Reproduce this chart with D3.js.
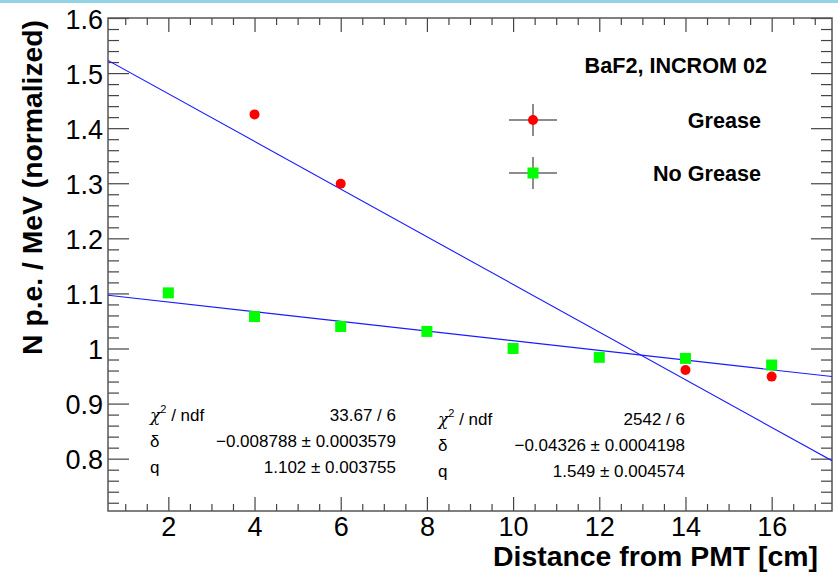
<!DOCTYPE html>
<html><head><meta charset="utf-8">
<script src="https://cdn.jsdelivr.net/npm/d3@7"></script>
<style>body{margin:0;background:#fff} svg{display:block}</style>
</head><body><svg id="c" width="838" height="572"></svg>
<script>
// ---- data ----
const greaseX = [4, 6, 14, 16];
const greaseY = [1.425, 1.299, 0.961, 0.949];
const noGreaseX = [2, 4, 6, 8, 10, 12, 14, 16];
const noGreaseY = [1.101, 1.058, 1.040, 1.031, 1.000, 0.984, 0.982, 0.970];
const greaseFit = [1.549, -0.04326];      // q, delta
const noGreaseFit = [1.102, -0.008788];   // q, delta
const xTicks = [2, 4, 6, 8, 10, 12, 14, 16];
const yTicks = [0.8, 0.9, 1.0, 1.1, 1.2, 1.3, 1.4, 1.5, 1.6];
const xDomain = [0.6, 17.4];
const yDomain = [0.705, 1.6];
const legendLabels = ["Grease", "No Grease"];
const titleText = "BaF2, INCROM 02";
const xTitle = "Distance from PMT [cm]";
const yTitle = "N p.e. / MeV (normalized)";
const statsNoGrease = [["χ", "33.67 / 6"], ["δ", "−0.008788 ± 0.0003579"], ["q", "1.102 ± 0.003755"]];
const statsGrease = [["χ", "2542 / 6"], ["δ", "−0.04326 ± 0.0004198"], ["q", "1.549 ± 0.004574"]];

// ---- layout ----
const L = 108, R = 832, T = 18, B = 511;
const FONT = "'Liberation Sans', Arial, Helvetica, sans-serif";
const svg = d3.select("#c").style("font-family", FONT);
svg.append("rect").attr("x", 0).attr("y", 0).attr("width", 838).attr("height", 3).attr("fill", "#93d3e6");

const x = d3.scaleLinear().domain(xDomain).range([L, R]);
const y = d3.scaleLinear().domain(yDomain).range([B, T]);

const xMinor = d3.range(2, 35).map(i => i / 2).filter(v => v % 2 !== 0);
const yMinor = d3.range(36, 81).filter(i => i % 5 !== 0).map(i => i / 50);

const tickColor = "#444";
function styleAxis(g) {
  g.select(".domain").remove();
  g.selectAll("line").attr("stroke", tickColor).attr("stroke-width", 1.2);
}
// bottom
svg.append("g").attr("transform", `translate(0,${B})`)
  .call(d3.axisBottom(x).tickValues(xMinor).tickSize(-7).tickSizeOuter(0).tickFormat(""))
  .call(styleAxis);
const xb = svg.append("g").attr("transform", `translate(0,${B})`)
  .call(d3.axisBottom(x).tickValues(xTicks).tickSize(-14).tickSizeOuter(0).tickPadding(6).tickFormat(d3.format("d")))
  .call(styleAxis);
xb.selectAll("text").attr("font-size", 27).attr("fill", "#000").attr("font-family", FONT);
// top
svg.append("g").attr("transform", `translate(0,${T})`)
  .call(d3.axisTop(x).tickValues(xMinor).tickSize(-7).tickSizeOuter(0).tickFormat(""))
  .call(styleAxis);
svg.append("g").attr("transform", `translate(0,${T})`)
  .call(d3.axisTop(x).tickValues(xTicks).tickSize(-14).tickSizeOuter(0).tickFormat(""))
  .call(styleAxis);
// left
svg.append("g").attr("transform", `translate(${L},0)`)
  .call(d3.axisLeft(y).tickValues(yMinor).tickSize(-11).tickSizeOuter(0).tickFormat(""))
  .call(styleAxis);
const yl = svg.append("g").attr("transform", `translate(${L},0)`)
  .call(d3.axisLeft(y).tickValues(yTicks).tickSize(-21).tickSizeOuter(0).tickPadding(5)
    .tickFormat(d => d === 1 ? "1" : d3.format(".1f")(d)))
  .call(styleAxis);
yl.selectAll("text").attr("font-size", 27).attr("fill", "#000").attr("dy", "0.37em").attr("font-family", FONT);
// right
svg.append("g").attr("transform", `translate(${R},0)`)
  .call(d3.axisRight(y).tickValues(yMinor).tickSize(-11).tickSizeOuter(0).tickFormat(""))
  .call(styleAxis);
svg.append("g").attr("transform", `translate(${R},0)`)
  .call(d3.axisRight(y).tickValues(yTicks).tickSize(-21).tickSizeOuter(0).tickFormat(""))
  .call(styleAxis);

// frame
svg.append("rect").attr("x", L).attr("y", T).attr("width", R - L).attr("height", B - T)
  .attr("fill", "none").attr("stroke", "#555").attr("stroke-width", 1.5);

// axis titles
svg.append("text").attr("x", 818).attr("y", 566).attr("text-anchor", "end")
  .attr("font-size", 28.4).attr("font-weight", "bold").text(xTitle);
svg.append("text").attr("transform", "translate(42,20) rotate(-90)").attr("text-anchor", "end")
  .attr("font-size", 28.3).attr("font-weight", "bold").text(yTitle);

// clip
svg.append("clipPath").attr("id", "clip").append("rect")
  .attr("x", L).attr("y", T).attr("width", R - L).attr("height", B - T);

// fit lines
[greaseFit, noGreaseFit].forEach(f => {
  const line = d3.line().x(d => x(d)).y(d => y(f[0] + f[1] * d));
  svg.append("path").datum(xDomain).attr("d", line).attr("clip-path", "url(#clip)")
    .attr("fill", "none").attr("stroke", "#1a1aff").attr("stroke-width", 1.1);
});

// points
svg.append("g").selectAll("circle").data(greaseX.map((d, i) => [d, greaseY[i]])).join("circle")
  .attr("cx", d => x(d[0])).attr("cy", d => y(d[1])).attr("r", 5).attr("fill", "#ff0000");
const sq = 11;
svg.append("g").selectAll("rect").data(noGreaseX.map((d, i) => [d, noGreaseY[i]])).join("rect")
  .attr("x", d => x(d[0]) - sq / 2).attr("y", d => y(d[1]) - sq / 2)
  .attr("width", sq).attr("height", sq).attr("fill", "#00ff00");

// legend
svg.append("text").attr("x", 767).attr("y", 73).attr("text-anchor", "end")
  .attr("font-size", 21.6).attr("font-weight", "bold").text(titleText);
const legY = [120, 173];
legendLabels.forEach((lab, i) => {
  const cy = legY[i], cx = 533;
  svg.append("line").attr("x1", cx - 24).attr("x2", cx + 24).attr("y1", cy).attr("y2", cy).attr("stroke", "#666").attr("stroke-width", 1.5);
  svg.append("line").attr("x1", cx).attr("x2", cx).attr("y1", cy - 16).attr("y2", cy + 16).attr("stroke", "#666").attr("stroke-width", 1.5);
  if (i === 0) svg.append("circle").attr("cx", cx).attr("cy", cy).attr("r", 5).attr("fill", "#ff0000");
  else svg.append("rect").attr("x", cx - sq / 2).attr("y", cy - sq / 2).attr("width", sq).attr("height", sq).attr("fill", "#00ff00");
  svg.append("text").attr("x", 761).attr("y", cy + 8).attr("text-anchor", "end")
    .attr("font-size", 21.6).attr("font-weight", "bold").text(lab);
});

// stats boxes
function stats(rows, xl, xr, y0) {
  rows.forEach((r, i) => {
    const yy = y0 + i * 26;
    const t = svg.append("text").attr("x", xl).attr("y", yy).attr("font-size", 17);
    if (i === 0) {
      t.append("tspan").attr("font-family", "'DejaVu Serif', serif").attr("font-style", "italic").text(r[0]);
      t.append("tspan").attr("font-size", 11).attr("dy", -8).text("2");
      t.append("tspan").attr("dy", 8).text(" / ndf");
    } else {
      t.text(r[0]);
    }
    svg.append("text").attr("x", xr).attr("y", yy).attr("text-anchor", "end").attr("font-size", 17).text(r[1]);
  });
}
stats(statsNoGrease, 150, 396, 421);
stats(statsGrease, 438, 685, 425);
</script></body></html>
